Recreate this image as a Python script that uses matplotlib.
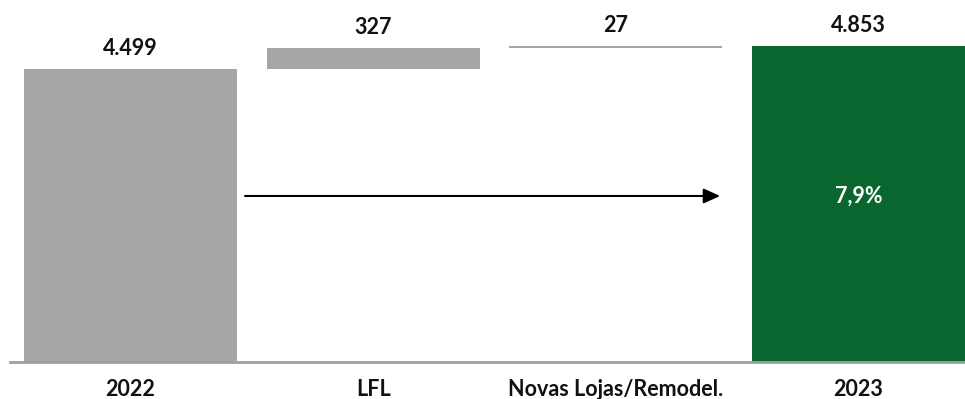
import matplotlib.pyplot as plt

categories = ["2022", "LFL", "Novas Lojas/Remodel.", "2023"]
deltas = [4499, 327, 27, 4853]
labels = ["4.499", "327", "27", "4.853"]
growth_label = "7,9%"

grey = "#a6a6a6"
green = "#08662e"

plt.rcParams['font.family'] = ['Lato', 'DejaVu Sans']

fig = plt.figure(figsize=(9.65, 3.99), dpi=100)
ax = fig.add_axes([10 / 965, 37 / 399, 955 / 965, 362 / 399])

# waterfall bottoms
bottoms = [0, deltas[0], deltas[0] + deltas[1], 0]
colors = [grey, grey, grey, green]
x = range(len(categories))
ax.bar(x, deltas, bottom=bottoms, width=0.878, color=colors)

for i in x:
    top = bottoms[i] + deltas[i]
    ax.annotate(labels[i], (i, top), xytext=(0, 7), textcoords="offset points",
                ha="center", va="bottom", fontsize=15.5, fontweight="bold", color="#111111")

# growth arrow
ax.annotate("", xy=(2.43, 2550), xytext=(0.472, 2550),
            arrowprops=dict(arrowstyle="-|>,head_length=1.0,head_width=0.45",
                            color="black", lw=1.5, shrinkA=0, shrinkB=0))
ax.text(3, 2550, growth_label, ha="center", va="center", color="white",
        fontsize=15.5, fontweight="bold")

ax.set_xlim(-0.4965, 3.439)
ax.set_ylim(0, 5560)
ax.set_xticks(list(x))
ax.set_xticklabels(categories, fontsize=15.5, fontweight="bold", color="#111111")
ax.tick_params(axis="x", length=0, pad=12)
ax.set_yticks([])
for s in ["top", "right", "left"]:
    ax.spines[s].set_visible(False)
ax.spines["bottom"].set_color("#a0a0a0")
ax.spines["bottom"].set_linewidth(2)

fig.savefig("out.png", dpi=100)
